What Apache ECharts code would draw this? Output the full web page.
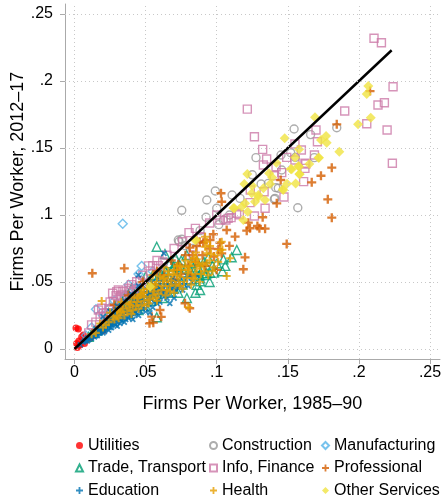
<!DOCTYPE html>
<html>
<head>
<meta charset="utf-8">
<script src="https://cdn.jsdelivr.net/npm/echarts@6/dist/echarts.min.js"></script>
<style>
  html, body { margin: 0; padding: 0; background: #fff; }
  #chart { width: 444px; height: 504px; }
</style>
</head>
<body>
<div id="chart"></div>
<script>
var FONT = '"Liberation Sans", Arial, sans-serif';

var xTicks = [0, 0.05, 0.1, 0.15, 0.2, 0.25];
var yTicks = [0, 0.05, 0.1, 0.15, 0.2, 0.25];

// 45 degree reference line
var diagLine = [[0, 0], [0.223, 0.223]];

var utilities = [[0.0027,0.0149],[0.0203,0.0137],[0.003,0.006],[0.005,0.009],[0.0062,0.0104],[0.004,0.003],
  [0.008,0.007],[0.0015,0.004],[0.011,0.008],[0.013,0.010],[0.007,0.004],[0.002,0.001],[0.001,0.0157]];

var construction = [[0.1544,0.1642],[0.166,0.160],[0.1844,0.1651],[0.1276,0.1428],[0.152,0.1465],[0.1686,0.1428],
  [0.1457,0.1336],[0.1415,0.1204],[0.1433,0.12],[0.1312,0.1231],[0.1108,0.1149],[0.099,0.1179],[0.093,0.1112],
  [0.141,0.1124],[0.157,0.1054],[0.1452,0.1448],[0.1553,0.143],[0.1363,0.1236],[0.1405,0.1117],[0.0754,0.1035],
  [0.1164,0.1124],[0.0925,0.0983],[0.1014,0.0928],[0.1047,0.0963],[0.0883,0.0883],[0.0754,0.0819],[0.0735,0.0801],
  [0.073,0.0813],[0.0777,0.0771],[0.083,0.075],[0.061,0.058],[0.045,0.047],[0.052,0.05],[0.035,0.038],[0.066,0.062],
  [0.07,0.066],[0.025,0.027],[0.04,0.042],[0.1,0.105],[0.109,0.1],[0.125,0.13]];

var manufacturing = [[0.0339,0.0935],[0.0472,0.0619],[0.0151,0.0296],[0.045,0.056],[0.038,0.048],[0.028,0.036],
  [0.02,0.025],[0.012,0.016],[0.03,0.03],[0.042,0.045],[0.055,0.058],[0.025,0.031],[0.008,0.01],[0.035,0.04],[0.06,0.055]];

var trade = [[0.0578,0.0763],[0.1105,0.0684],[0.1047,0.0669],[0.0953,0.0569],[0.0918,0.0552],[0.0883,0.0527],
  [0.0789,0.0701],[0.0742,0.0623],[0.0695,0.0616],[0.0859,0.0478],[0.0883,0.044],[0.1141,0.0739],[0.093,0.0565],
  [0.0883,0.0505],[0.0578,0.0237],[0.0636,0.0709],[0.072,0.055],[0.068,0.05],[0.064,0.058],[0.06,0.052],
  [0.056,0.047],[0.052,0.044],[0.049,0.05],[0.046,0.041],[0.043,0.038],[0.04,0.036],[0.037,0.033],[0.034,0.03],
  [0.031,0.028],[0.028,0.025],[0.025,0.022],[0.022,0.02],[0.019,0.017],[0.016,0.014],[0.013,0.012],[0.01,0.009],
  [0.076,0.048],[0.08,0.052],[0.084,0.058],[0.078,0.06],[0.07,0.045],[0.066,0.042],[0.062,0.038],[0.058,0.041],
  [0.054,0.036],[0.05,0.032],[0.045,0.029],[0.082,0.064],[0.086,0.066],[0.09,0.06],[0.097,0.062],[0.075,0.066],
  [0.071,0.068],[0.067,0.064],[0.063,0.06],[0.055,0.055],[0.05,0.054],[0.047,0.046],[0.04,0.045],[0.036,0.04],
  [0.1,0.064],[0.104,0.058],[0.095,0.05],[0.085,0.042],[0.079,0.038],[0.03,0.034],[0.024,0.027],
  [0.035,0.037],[0.042,0.04],[0.048,0.043],[0.053,0.048],[0.057,0.05],[0.061,0.056],[0.065,0.052],[0.069,0.059],
  [0.073,0.061],[0.077,0.057],[0.081,0.059],[0.087,0.061],[0.091,0.065],[0.094,0.068],[0.098,0.057],[0.073,0.042],
  [0.088,0.055],[0.106,0.062]];

var infoFinance = [[0.2106,0.2319],[0.2158,0.2286],[0.224,0.1957],[0.2179,0.1838],[0.2134,0.1821],[0.190,0.1776],
  [0.2055,0.1681],[0.2198,0.1634],[0.1698,0.1634],[0.2235,0.1386],[0.1708,0.1547],[0.155,0.153],[0.1595,0.1485],
  [0.1492,0.143],[0.155,0.141],[0.1687,0.1448],[0.162,0.1386],[0.162,0.1348],[0.1457,0.1316],[0.1611,0.1249],
  [0.1473,0.1134],[0.1323,0.149],[0.1351,0.1418],[0.1328,0.1373],[0.1626,0.138],[0.1417,0.136],[0.134,0.105],
  [0.1265,0.0993],[0.1159,0.1002],[0.1101,0.098],[0.1065,0.0963],[0.1023,0.0963],[0.1234,0.1092],[0.0805,0.0868],
  [0.089,0.0834],[0.0836,0.0701],[0.1215,0.179],[0.1265,0.1584],[0.1405,0.1293],[0.1333,0.1174],[0.1236,0.1187],
  [0.055,0.0622],[0.059,0.0622],[0.0531,0.0582],[0.0437,0.0502],[0.0386,0.0438],[0.0308,0.044],[0.0292,0.0398],
  [0.0355,0.0366],[0.0222,0.0271],[0.0168,0.0291],[0.0472,0.0453],[0.0496,0.049],[0.0414,0.0428],[0.0332,0.0403],
  [0.108,0.0975],[0.114,0.1013],[0.0883,0.0838],[0.046,0.051],[0.0378,0.0453],[0.0297,0.0428],[0.0268,0.0416],
  [0.032,0.039],[0.0191,0.0304],[0.0203,0.0266],[0.0273,0.0353],[0.012,0.018],[0.015,0.02],[0.025,0.035],
  [0.07,0.075],[0.065,0.07],[0.01,0.012],[0.018,0.024],[0.024,0.03],[0.034,0.043],[0.04,0.048],[0.048,0.055],
  [0.052,0.062],[0.058,0.066],[0.062,0.065],[0.076,0.08],[0.085,0.09],[0.095,0.094],[0.1,0.1]];

var professional = [[0.2078,0.1925],[0.1844,0.1677],[0.1809,0.1353],[0.1733,0.1293],[0.1668,0.1244],[0.1781,0.1117],
  [0.145,0.1261],[0.103,0.1162],[0.1809,0.098],[0.1492,0.0784],[0.1035,0.1099],[0.1422,0.1087],[0.1323,0.0983],
  [0.1222,0.0943],[0.1234,0.0901],[0.1211,0.0883],[0.1286,0.0918],[0.13,0.0901],[0.134,0.0898],[0.1129,0.0838],
  [0.107,0.0888],[0.1023,0.0793],[0.1089,0.0769],[0.1199,0.0684],[0.0976,0.0856],[0.0953,0.0813],[0.1011,0.0746],
  [0.1035,0.0714],[0.0905,0.0793],[0.0858,0.0768],[0.0811,0.0756],[0.0125,0.0565],[0.035,0.0602],[0.1187,0.0595],
  [0.1,0.059],[0.0777,0.0341],[0.081,0.0304],[0.0554,0.0196],[0.061,0.024],[0.0719,0.059],[0.0543,0.0241],
  [0.0527,0.0192],[0.0601,0.0291],[0.02,0.018],[0.025,0.02],[0.03,0.026],[0.035,0.027],[0.04,0.033],[0.045,0.035],
  [0.05,0.04],[0.055,0.043],[0.06,0.046],[0.065,0.05],[0.07,0.052],[0.075,0.056],[0.08,0.062],[0.085,0.065],
  [0.09,0.07],[0.095,0.075],[0.028,0.033],[0.038,0.04],[0.048,0.05],[0.058,0.058],[0.068,0.066],[0.078,0.07],
  [0.088,0.08],[0.015,0.014],[0.01,0.008],[0.033,0.031],[0.043,0.038],[0.053,0.046],[0.063,0.055],[0.073,0.063],
  [0.083,0.07],[0.042,0.03],[0.052,0.037],[0.062,0.043],[0.072,0.048],[0.082,0.055],[0.092,0.062],[0.098,0.069],
  [0.023,0.022],[0.018,0.015]];

var education = [[0.004,0.003],[0.006,0.005],[0.008,0.006],[0.009,0.008],[0.011,0.008],[0.012,0.010],[0.013,0.011],
  [0.014,0.009],[0.015,0.013],[0.016,0.011],[0.017,0.014],[0.018,0.012],[0.019,0.016],[0.020,0.014],[0.021,0.017],
  [0.022,0.015],[0.023,0.019],[0.024,0.017],[0.025,0.020],[0.026,0.018],[0.027,0.022],[0.028,0.019],[0.029,0.023],
  [0.030,0.020],[0.031,0.025],[0.032,0.022],[0.033,0.026],[0.034,0.023],[0.035,0.028],[0.036,0.024],[0.037,0.029],
  [0.038,0.026],[0.039,0.031],[0.040,0.027],[0.041,0.032],[0.042,0.029],[0.043,0.034],[0.044,0.030],[0.045,0.035],
  [0.046,0.032],[0.047,0.037],[0.048,0.033],[0.049,0.038],[0.050,0.035],[0.051,0.040],[0.052,0.036],[0.053,0.041],
  [0.054,0.037],[0.055,0.042],[0.056,0.039],[0.057,0.044],[0.058,0.040],[0.060,0.045],[0.062,0.042],[0.064,0.047],
  [0.066,0.043],[0.068,0.049],[0.070,0.045],[0.072,0.050],[0.075,0.047],[0.02,0.024],[0.025,0.028],[0.03,0.032],
  [0.035,0.036],[0.04,0.041],[0.045,0.047],[0.0449,0.0552],[0.0629,0.0714],[0.055,0.05],[0.06,0.052],[0.03,0.017],
  [0.04,0.024],[0.05,0.03],[0.058,0.034],[0.065,0.038],[0.035,0.02],[0.067,0.034],[0.053,0.027],[0.041,0.022],
  [0.007,0.006],[0.010,0.007],[0.013,0.012],[0.016,0.010],[0.018,0.015],[0.021,0.013],[0.023,0.021],[0.026,0.016],
  [0.027,0.024],[0.029,0.018],[0.031,0.027],[0.033,0.021],[0.034,0.029],[0.036,0.022],[0.037,0.032],[0.039,0.025],
  [0.041,0.036],[0.042,0.026],[0.044,0.038],[0.046,0.028],[0.047,0.041],[0.049,0.031],[0.051,0.044],[0.052,0.033],
  [0.054,0.046],[0.056,0.035],[0.057,0.048],[0.059,0.037],[0.061,0.05],[0.063,0.039],[0.064,0.052],[0.066,0.041],
  [0.069,0.053],[0.071,0.043],[0.073,0.055],[0.076,0.044],[0.078,0.052],[0.080,0.047],[0.083,0.05],[0.043,0.027],
  [0.038,0.023],[0.032,0.019],[0.024,0.014],[0.048,0.04],[0.053,0.044],[0.058,0.047],[0.062,0.051],[0.028,0.026],
  [0.019,0.018],[0.015,0.015],[0.009,0.006],[0.012,0.008],[0.015,0.01],[0.017,0.012],[0.02,0.012],[0.022,0.017],
  [0.025,0.016],[0.027,0.019],[0.03,0.023],[0.032,0.025],[0.034,0.026],[0.036,0.029],[0.038,0.03],[0.04,0.03],
  [0.042,0.033],[0.044,0.034],[0.046,0.036],[0.048,0.037],[0.05,0.038],[0.052,0.04],[0.054,0.041],[0.056,0.043],
  [0.058,0.044],[0.06,0.041],[0.062,0.046],[0.064,0.043],[0.066,0.047],[0.068,0.045],[0.07,0.049],[0.072,0.046],
  [0.074,0.051],[0.077,0.048],[0.079,0.055],[0.082,0.053],[0.086,0.055],[0.045,0.025],[0.05,0.028],[0.055,0.031],
  [0.06,0.035],[0.07,0.038]];

var health = [[0.093,0.064],[0.107,0.0545],[0.1024,0.0739],[0.0918,0.0763],[0.08,0.0311],[0.093,0.08],[0.093,0.0714],
  [0.1035,0.08],[0.1094,0.0677],[0.0918,0.0838],[0.0953,0.0769],[0.0854,0.072],[0.015,0.012],[0.02,0.016],
  [0.024,0.02],[0.028,0.022],[0.032,0.027],[0.035,0.025],[0.038,0.031],[0.041,0.029],[0.044,0.035],[0.047,0.033],
  [0.05,0.039],[0.053,0.037],[0.056,0.043],[0.059,0.041],[0.062,0.047],[0.065,0.044],[0.068,0.051],[0.071,0.048],
  [0.074,0.054],[0.077,0.05],[0.08,0.057],[0.083,0.053],[0.086,0.06],[0.089,0.056],[0.042,0.039],[0.048,0.044],
  [0.054,0.049],[0.06,0.054],[0.066,0.058],[0.072,0.062],[0.078,0.066],[0.084,0.068],[0.036,0.034],[0.03,0.029],
  [0.045,0.03],[0.052,0.034],[0.058,0.036],[0.064,0.04],[0.07,0.042],[0.076,0.045],[0.082,0.048],[0.088,0.05],
  [0.025,0.027],[0.033,0.035],[0.055,0.055],[0.063,0.061],[0.018,0.019],[0.012,0.011],[0.0191,0.0358],
  [0.022,0.018],[0.027,0.024],[0.031,0.023],[0.034,0.03],[0.037,0.028],[0.04,0.035],[0.043,0.032],[0.046,0.04],
  [0.049,0.036],[0.051,0.045],[0.055,0.04],[0.057,0.048],[0.061,0.044],[0.063,0.053],[0.067,0.047],[0.069,0.056],
  [0.073,0.05],[0.075,0.059],[0.079,0.053],[0.081,0.062],[0.085,0.056],[0.087,0.064],[0.091,0.058],[0.095,0.066],
  [0.098,0.061],[0.1,0.07],[0.057,0.038],[0.067,0.043],[0.074,0.047],[0.084,0.052],[0.094,0.055],[0.04,0.026],
  [0.05,0.032],[0.03,0.025],[0.033,0.028],[0.039,0.033],[0.045,0.038],[0.049,0.042],[0.053,0.045],[0.058,0.05],
  [0.062,0.052],[0.066,0.055],[0.07,0.059],[0.074,0.062],[0.078,0.061],[0.082,0.065],[0.086,0.067],[0.09,0.063],
  [0.096,0.071],[0.101,0.065],[0.104,0.074],[0.056,0.046],[0.064,0.05],[0.072,0.055],[0.08,0.059],[0.088,0.062],
  [0.097,0.058],[0.047,0.041]];

var otherServices = [[0.2066,0.1963],[0.2055,0.1903],[0.2083,0.1726],[0.1994,0.1677],[0.1862,0.1472],[0.1691,0.1729],
  [0.1769,0.159],[0.1773,0.154],[0.1733,0.156],[0.1478,0.1572],[0.1715,0.1428],[0.1651,0.138],[0.1579,0.136],
  [0.1551,0.143],[0.152,0.1343],[0.1583,0.1304],[0.1494,0.1234],[0.1555,0.1236],[0.1368,0.1311],[0.1375,0.1231],
  [0.1215,0.1306],[0.1194,0.1231],[0.125,0.1219],[0.1293,0.1149],[0.1328,0.1199],[0.1468,0.1187],[0.1579,0.149],
  [0.1719,0.1428],[0.1574,0.1366],[0.1527,0.1341],[0.1581,0.1306],[0.1464,0.1192],[0.1246,0.1162],[0.1293,0.1137],
  [0.134,0.1112],[0.1269,0.1099],[0.1199,0.1087],[0.1124,0.105],[0.1187,0.0963],[0.0847,0.0813],[0.0531,0.0465],
  [0.1117,0.1052],[0.1176,0.1062],[0.1218,0.1025],[0.0854,0.0813],[0.139,0.128],[0.142,0.139]];

var PLUS = 'path://M3.7,0h2.6v3.7h3.7v2.6h-3.7v3.7h-2.6v-3.7h-3.7v-2.6h3.7z';

function hollow(name, data, symbol, color, size) {
  return {
    name: name, type: 'scatter', data: data, symbol: symbol, symbolSize: size,
    itemStyle: { color: 'rgba(255,255,255,0)', borderColor: color, borderWidth: 1.4 },
    emphasis: { disabled: true }, silent: true
  };
}
function solid(name, data, symbol, color, size, rotate) {
  return {
    name: name, type: 'scatter', data: data, symbol: symbol, symbolSize: size, symbolRotate: rotate || 0,
    itemStyle: { color: color, borderWidth: 0 },
    emphasis: { disabled: true }, silent: true
  };
}

function tickFmt(v) {
  if (Math.abs(v) < 1e-9) return '0';
  return String(+v.toFixed(2)).replace(/^0\./, '.');
}

var gridMarks = xTicks.map(function (v) { return { xAxis: v }; })
  .concat(yTicks.map(function (v) { return { yAxis: v }; }));

var chart = echarts.init(document.getElementById('chart'));

function legendCol(names, left) {
  return {
    orient: 'vertical', left: left, top: 437.5, itemWidth: 7, itemHeight: 7, itemGap: 6.5, padding: 0,
    selectedMode: false,
    textStyle: { fontSize: 16, color: '#000', fontFamily: FONT },
    data: names
  };
}

var axisCommon = {
  type: 'value',
  axisLine: { show: true, onZero: false, lineStyle: { color: '#aaaaaa', width: 1 } },
  splitLine: { show: false },
  nameLocation: 'middle',
  nameMoveOverlap: false,
  nameTextStyle: { fontSize: 18, color: '#000', fontFamily: FONT }
};

var option = {
  animation: false,
  backgroundColor: '#fff',
  textStyle: { fontFamily: FONT },
  grid: { left: 65, right: 4, top: 4, bottom: 145, containLabel: false, outerBoundsMode: 'none' },
  xAxis: Object.assign({}, axisCommon, {
    min: -0.0067, max: 0.257,
    name: 'Firms Per Worker, 1985\u201390', nameGap: 36,
    axisTick: { show: true, length: 5, lineStyle: { color: '#aaaaaa' }, customValues: xTicks },
    axisLabel: { customValues: xTicks, formatter: tickFmt, fontSize: 16, color: '#000', margin: 6, fontFamily: FONT }
  }),
  yAxis: Object.assign({}, axisCommon, {
    min: -0.0075, max: 0.2575,
    name: 'Firms Per Worker, 2012\u201317', nameGap: 38,
    axisTick: { show: true, length: 5, lineStyle: { color: '#aaaaaa' }, customValues: yTicks },
    axisLabel: { customValues: yTicks, formatter: tickFmt, fontSize: 16, color: '#000', margin: 12, fontFamily: FONT }
  }),
  legend: [
    legendCol(['Utilities', 'Trade, Transport', 'Education'], 75),
    legendCol(['Construction', 'Info, Finance', 'Health'], 209),
    legendCol(['Manufacturing', 'Professional', 'Other Services'], 321)
  ],
  series: [
    {
      type: 'line', data: [], silent: true,
      markLine: {
        silent: true, symbol: ['none', 'none'], label: { show: false },
        lineStyle: { color: '#c8c8c8', type: [1, 3], width: 1 },
        emphasis: { disabled: true },
        data: gridMarks
      }
    },
    solid('Utilities', utilities, 'circle', '#ff0000', 7),
    hollow('Construction', construction, 'circle', '#999999', 8),
    hollow('Manufacturing', manufacturing, 'diamond', '#56B4E9', 9),
    hollow('Trade, Transport', trade, 'triangle', '#009E73', 9),
    hollow('Info, Finance', infoFinance, 'rect', '#CC79A7', 8),
    solid('Professional', professional, PLUS, '#D55E00', 9),
    solid('Education', education, PLUS, '#0072B2', 7, 45),
    solid('Health', health, PLUS, '#E69F00', 8),
    solid('Other Services', otherServices, 'diamond', '#F0E442', 10),
    {
      type: 'line', data: diagLine, symbol: 'none', silent: true,
      lineStyle: { color: '#000', width: 2.5 }
    }
  ]
};

chart.setOption(option);
</script>
</body>
</html>
